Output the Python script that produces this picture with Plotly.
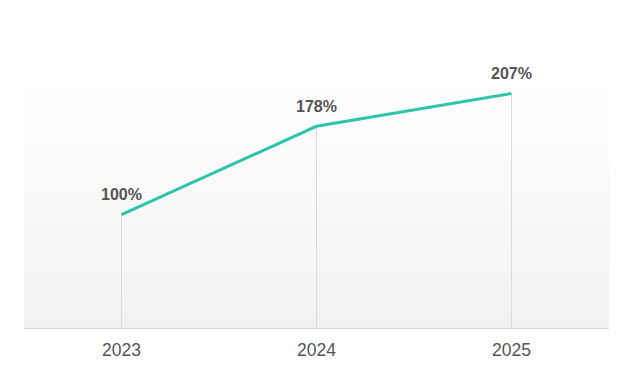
import plotly.graph_objects as go

years = ["2023", "2024", "2025"]
values = [100, 178, 207]
labels = ["100%", "178%", "207%"]

line_color = "#2ec4aa"
text_color = "#555555"

idx = list(range(len(years)))

fig = go.Figure()

fig.add_trace(go.Scatter(
    x=idx, y=values, mode="lines",
    line=dict(color=line_color, width=3),
    hoverinfo="skip", showlegend=False,
))

shapes = []
# vertical gradient background in the plot area (white top -> light grey bottom)
n = 80
top = (254, 254, 254)
bot = (241, 241, 241)
for i in range(n):
    t = i / (n - 1)
    c = tuple(round(top[k] + (bot[k] - top[k]) * t) for k in range(3))
    shapes.append(dict(
        type="rect", xref="x domain", yref="y domain",
        x0=0, x1=1, y0=1 - (i + 1) / n, y1=1 - i / n,
        fillcolor="rgb(%d,%d,%d)" % c, line=dict(width=0), layer="below",
    ))
# drop lines
for i, v in zip(idx, values):
    shapes.append(dict(
        type="line", xref="x", yref="y", x0=i, x1=i, y0=0, y1=v,
        line=dict(color="#dcdcdc", width=1), layer="below",
    ))

annotations = [
    dict(x=i, y=v, xref="x", yref="y", text="<b>%s</b>" % lab, showarrow=False, yshift=20,
         font=dict(size=16, color=text_color, family="Arial, Liberation Sans, sans-serif"))
    for i, v, lab in zip(idx, values, labels)
]

fig.update_layout(
    width=632, height=375,
    margin=dict(l=24, r=23, t=90, b=47),
    paper_bgcolor="white", plot_bgcolor="white",
    shapes=shapes, annotations=annotations,
    font=dict(family="Arial, Liberation Sans, sans-serif", color=text_color),
    xaxis=dict(
        range=[-0.5, 2.5], showgrid=False, zeroline=False,
        tickmode="array", tickvals=idx, ticktext=years,
        showline=True, linecolor="#d9d9d9", linewidth=1,
        ticks="", ticklabelstandoff=6,
        tickfont=dict(size=17.5, color=text_color), fixedrange=True,
    ),
    yaxis=dict(
        range=[0, 210], showgrid=False, zeroline=False, showline=False,
        showticklabels=False, ticks="", fixedrange=True,
    ),
)

fig.write_html("out.html", config={"displayModeBar": False},
               post_script="document.body.style.margin='0';")
